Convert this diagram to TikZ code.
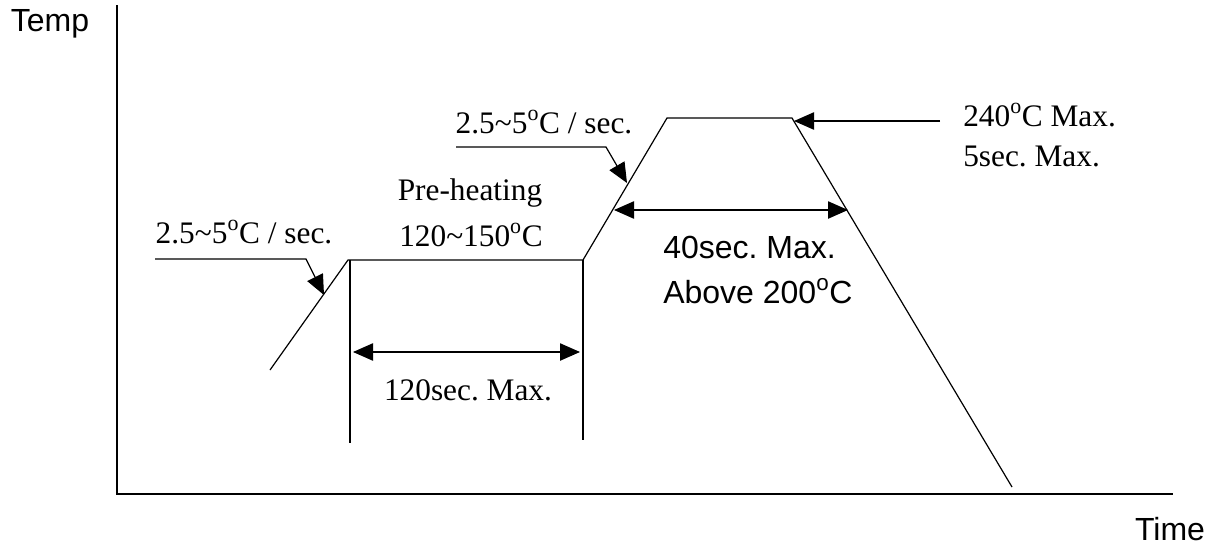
\documentclass[tikz,border=0pt]{standalone}
\usepackage{fontspec}
\setmainfont{Liberation Serif}
\setsansfont{Liberation Sans}
\usetikzlibrary{arrows.meta}
\newcommand{\dg}{\textsuperscript{o}}
\frenchspacing

\tikzset{
	axis/.style={line width=1.5pt},
	curve/.style={line width=0.9pt},
	pointer/.style={line width=0.9pt,-{Triangle[length=15pt,width=13pt]}},
	span/.style={line width=0.9pt,{Triangle[length=15pt,width=13pt]}-{Triangle[length=15pt,width=13pt]}},
	serif/.style={font=\fontsize{23.5}{28}\selectfont,inner sep=0pt},
	sans/.style={font=\sffamily\fontsize{24}{29}\selectfont,inner sep=0pt},
}

\begin{document}
\begin{tikzpicture}[x=0.75pt,y=0.75pt,yscale=-1,xscale=1]
	\useasboundingbox (0,0) rectangle (1215,547);
	
	%axes
	\coordinate (origin) at (117,494);
	\coordinate (ytop) at (117,5);
	\coordinate (xend) at (1173,494);
	\draw [axis] (ytop) -- (origin) -- (xend);
	
	%profile
	\coordinate (start) at (270,370);
	\coordinate (preA) at (348,260);
	\coordinate (preB) at (583,260);
	\coordinate (peakA) at (667,118);
	\coordinate (peakB) at (792,118);
	\coordinate (stop) at (1012,487);
	\draw [curve] (start) -- (preA) -- (preB) -- (peakA) -- (peakB) -- (stop);
	
	%preheat markers
	\coordinate (markA) at (350,260);
	\coordinate (markAend) at (350,443);
	\coordinate (markBend) at (583,440);
	\draw [curve] (markA) -- (markAend);
	\draw [curve] (preB) -- (markBend);
	\coordinate (spanA) at (353,352);
	\coordinate (spanB) at (580,352);
	\draw [span] (spanA) -- (spanB);
	
	%reflow span
	\coordinate (reflowA) at (614,210);
	\coordinate (reflowB) at (848,210);
	\draw [span] (reflowA) -- (reflowB);
	
	%rate pointers
	\coordinate (rateA) at (155,259);
	\coordinate (rateAknee) at (306,259);
	\coordinate (rateAtip) at (324,295);
	\draw [pointer] (rateA) -- (rateAknee) -- (rateAtip);
	\coordinate (rateB) at (456,147);
	\coordinate (rateBknee) at (606,147);
	\coordinate (rateBtip) at (627,183);
	\draw [pointer] (rateB) -- (rateBknee) -- (rateBtip);
	
	%peak pointer
	\coordinate (peakLabel) at (940,121);
	\coordinate (peakTip) at (794,121);
	\draw [pointer] (peakLabel) -- (peakTip);
	
	% Text Node
	\node (temp) [sans,anchor=base] at (50,31) {Temp};
	% Text Node
	\node (time) [sans,anchor=base] at (1170,540) {Time};
	% Text Node
	\node (rateAtxt) [serif,anchor=base] at (244,243) {2.5\textasciitilde5\dg C / sec.};
	% Text Node
	\node (preheat) [serif,anchor=base] at (470,200) {Pre-heating};
	% Text Node
	\node (pretemp) [serif,anchor=base] at (471,246) {120\textasciitilde150\dg C};
	% Text Node
	\node (pretime) [serif,anchor=base] at (468,400) {120sec. Max.};
	% Text Node
	\node (rateBtxt) [serif,anchor=base] at (544,133) {2.5\textasciitilde5\dg C / sec.};
	% Text Node
	\node (peaktemp) [serif,anchor=base west] at (963,126) {240\dg C Max.};
	% Text Node
	\node (peaktime) [serif,anchor=base west] at (963,166) {5sec. Max.};
	% Text Node
	\node (reflowtime) [sans,anchor=base west] at (663,258) {40sec. Max.};
	% Text Node
	\node (reflowtemp) [sans,anchor=base west] at (663,303) {Above 200\dg C};
	
\end{tikzpicture}
\end{document}
